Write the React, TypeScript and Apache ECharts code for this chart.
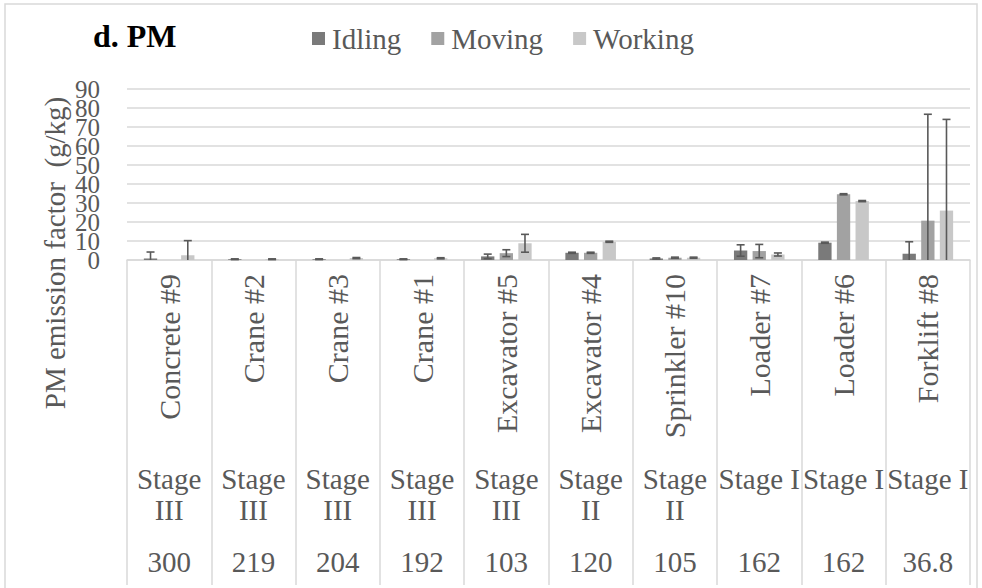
import React, { useEffect, useRef } from "react";
import * as echarts from "echarts";

const categories = ["Concrete #9", "Crane #2", "Crane #3", "Crane #1", "Excavator #5", "Excavator #4", "Sprinkler #10", "Loader #7", "Loader #6", "Forklift #8"];
const stages = ["Stage\nIII", "Stage\nIII", "Stage\nIII", "Stage\nIII", "Stage\nIII", "Stage\nII", "Stage\nII", "Stage I", "Stage I", "Stage I"];
const powers = ["300", "219", "204", "192", "103", "120", "105", "162", "162", "36.8"];
const seriesNames = ["Idling", "Moving", "Working"];
const idling = [0.8, 0.4, 0.4, 0.4, 1.9, 3.8, 0.8, 5.0, 9.1, 3.3];
const idlingErr = [3.4, 0.2, 0.2, 0.2, 1.2, 0.3, 0.3, 3.0, 0.3, 6.3];
const moving = [null, null, null, null, 3.6, 3.8, 1.2, 4.7, 34.6, 20.7];
const movingErr = [null, null, null, null, 1.8, 0.3, 0.3, 3.5, 0.3, 56];
const working = [2.5, 0.4, 1.0, 0.9, 8.8, 9.6, 1.2, 2.9, 31.0, 26.0];
const workingErr = [7.7, 0.2, 0.3, 0.3, 4.7, 0.3, 0.3, 0.8, 0.3, 48];
const yTicks = { min: 0, max: 90, interval: 10 };

const colors = ["#7a7a7a", "#a2a2a2", "#c8c8c8"];
const SERIF = "Liberation Serif";
const CAT_GAP = 0.4;
const BAR_GAP = 0.4;

function errorSeries(idx: number, vals: (number | null)[], errs: (number | null)[]) {
  const data: number[][] = [];
  vals.forEach((v, k) => {
    if (v != null && errs[k] != null) data.push([k, v, errs[k] as number]);
  });
  return {
    type: "custom",
    xAxisIndex: 0,
    yAxisIndex: 0,
    z: 5,
    encode: { x: 0, y: 1 },
    data,
    renderItem: (params: any, api: any) => {
      const ci = api.value(0);
      const v = api.value(1);
      const e = api.value(2);
      const band = api.size([1, 0])[0];
      const bw = (band * (1 - CAT_GAP)) / (3 + 2 * BAR_GAP);
      const off = (idx - 1) * bw * (1 + BAR_GAP);
      const lo = Math.max(0, v - e);
      const top = api.coord([ci, v + e]);
      const bot = api.coord([ci, lo]);
      const x = top[0] + off;
      const style = { stroke: "#595959", lineWidth: 1.6 };
      const children: any[] = [
        { type: "line", shape: { x1: x, y1: top[1], x2: x, y2: bot[1] }, style },
        { type: "line", shape: { x1: x - 4, y1: top[1], x2: x + 4, y2: top[1] }, style },
      ];
      if (v - e > 0) {
        children.push({ type: "line", shape: { x1: x - 4, y1: bot[1], x2: x + 4, y2: bot[1] }, style });
      }
      return { type: "group", children };
    },
  };
}

function yAxisDef(even: boolean, withGrid: boolean) {
  return {
    type: "value",
    position: "left",
    min: yTicks.min,
    max: yTicks.max,
    interval: yTicks.interval,
    axisLine: { show: false },
    axisTick: { show: false },
    splitLine: withGrid
      ? { show: true, showMinLine: true, showMaxLine: true, lineStyle: { color: "#d9d9d9", width: 1.5 } }
      : { show: false },
    axisLabel: {
      margin: 27,
      fontFamily: SERIF,
      fontSize: 25,
      color: "#595959",
      showMinLabel: true,
      showMaxLabel: true,
      formatter: (v: number) => ((Math.round(v / yTicks.interval) % 2 === 0) === even ? String(v) : ""),
    },
  };
}

export default function App() {
  const ref = useRef<HTMLDivElement>(null);
  useEffect(() => {
    document.body.style.margin = "0";
    const chart = echarts.init(ref.current!, null, { renderer: "svg" });
    const barVals = [idling, moving, working];
    const errVals = [idlingErr, movingErr, workingErr];
    chart.setOption({
      animation: false,
      backgroundColor: "#ffffff",
      textStyle: { fontFamily: SERIF },
      title: {
        text: "d. PM",
        left: 88,
        top: 15,
        textStyle: { fontFamily: SERIF, fontSize: 32, fontWeight: "bold", color: "#000000" },
      },
      legend: {
        data: seriesNames,
        left: 307,
        top: 19,
        icon: "rect",
        itemWidth: 13,
        itemHeight: 13,
        itemGap: 30,
        selectedMode: false,
        textStyle: { fontFamily: SERIF, fontSize: 29, color: "#595959", padding: [0, 0, 0, 2] },
      },
      graphic: [
        {
          type: "rect",
          shape: { x: 5, y: 4, width: 972, height: 620 },
          style: { fill: "none", stroke: "#d9d9d9", lineWidth: 1.5 },
          silent: true,
        },
        {
          type: "text",
          x: 55,
          y: 253,
          rotation: Math.PI / 2,
          style: {
            text: "PM emission factor  (g/kg)",
            font: `29px ${SERIF}`,
            fill: "#595959",
            textAlign: "center",
            textVerticalAlign: "middle",
          },
        },
      ],
      grid: { left: 127, right: 12, top: 89, bottom: 328, containLabel: false },
      xAxis: [
        {
          type: "category",
          data: categories,
          position: "bottom",
          axisLine: { lineStyle: { color: "#d9d9d9", width: 1.5 } },
          axisTick: { show: true, alignWithLabel: false, length: 325, lineStyle: { color: "#d9d9d9", width: 1.5 } },
          axisLabel: { interval: 0, rotate: 90, margin: 14, fontFamily: SERIF, fontSize: 30, color: "#595959" },
        },
        {
          type: "category",
          data: stages,
          position: "bottom",
          axisLine: { show: false },
          axisTick: { show: false },
          axisLabel: { interval: 0, margin: 203, fontFamily: SERIF, fontSize: 29, lineHeight: 31, color: "#595959", verticalAlign: "top" },
        },
        {
          type: "category",
          data: powers,
          position: "bottom",
          axisLine: { show: false },
          axisTick: { show: false },
          axisLabel: { interval: 0, margin: 286, fontFamily: SERIF, fontSize: 29, lineHeight: 31, color: "#595959", verticalAlign: "top" },
        },
      ],
      yAxis: [yAxisDef(true, true), yAxisDef(false, false)],
      series: [
        ...seriesNames.map((name, i) => ({
          name,
          type: "bar",
          xAxisIndex: 0,
          yAxisIndex: 0,
          data: barVals[i],
          itemStyle: { color: colors[i] },
          barCategoryGap: "40%",
          barGap: "40%",
        })),
        ...seriesNames.map((_, i) => errorSeries(i, barVals[i], errVals[i])),
      ],
    });
    return () => chart.dispose();
  }, []);
  return <div ref={ref} style={{ width: 982, height: 588 }} />;
}
